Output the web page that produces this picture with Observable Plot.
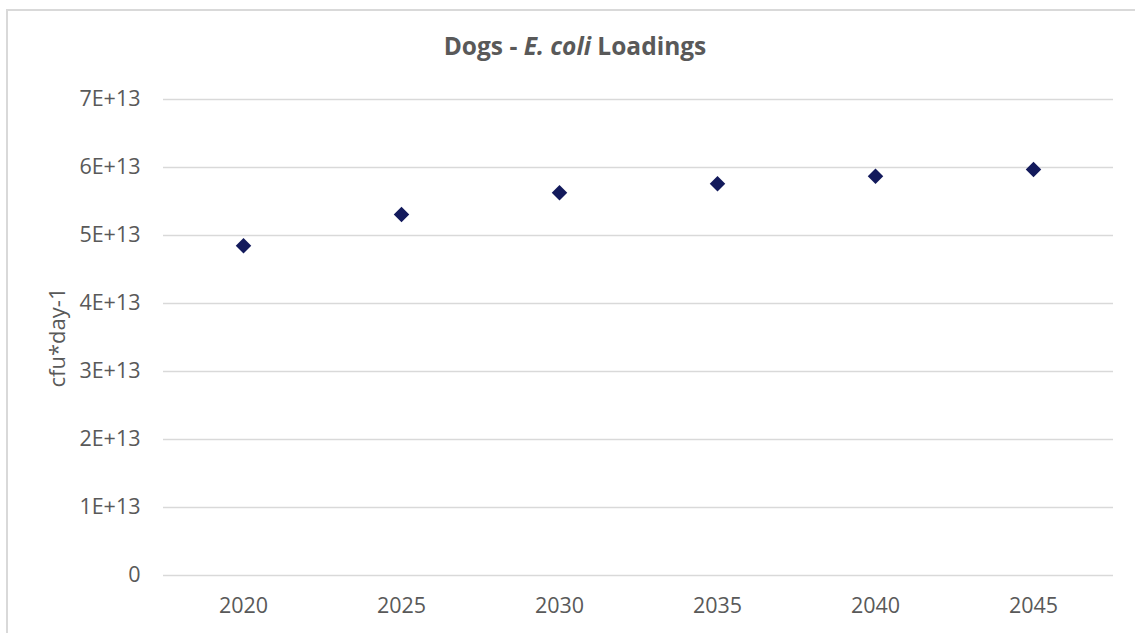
<!DOCTYPE html>
<html>
<head>
<meta charset="utf-8">
<script src="https://cdn.jsdelivr.net/npm/d3@7"></script>
<script src="https://cdn.jsdelivr.net/npm/@observablehq/plot@0.6"></script>
<style>
  html, body { margin: 0; padding: 0; background: #fff; }
  #wrap { position: relative; width: 1135px; height: 633px; overflow: hidden; font-family: "Open Sans", sans-serif; }
  #frame { position: absolute; left: 6px; top: 9px; width: 1140px; height: 640px; border: 2px solid #d9d9d9; box-sizing: border-box; }
  #title { position: absolute; left: 0; width: 1150px; top: 29px; text-align: center; font-size: 24.5px; font-weight: bold; color: #595959; }
  #chart { position: absolute; left: 0; top: 0; }
  #chart svg g[aria-label="x-axis tick label"] text, #chart svg g[aria-label="y-axis tick label"] text { font-size: 21.5px; }
</style>
</head>
<body>
<div id="wrap">
  <div id="frame"></div>
  <div id="chart"></div>
  <div id="title">Dogs - <i>E. coli</i> Loadings</div>
</div>
<script>
const years = ["2020", "2025", "2030", "2035", "2040", "2045"];
const loadings = [4.85e13, 5.31e13, 5.63e13, 5.76e13, 5.87e13, 5.97e13];
const yTicks = [0, 1e13, 2e13, 3e13, 4e13, 5e13, 6e13, 7e13];
const yTickLabels = ["0", "1E+13", "2E+13", "3E+13", "4E+13", "5E+13", "6E+13", "7E+13"];
const yAxisLabel = "cfu*day-1";

const data = years.map((y, i) => ({year: y, value: loadings[i]}));

const chart = Plot.plot({
  width: 1135,
  height: 633,
  marginLeft: 163,
  marginRight: 22,
  marginTop: 99,
  marginBottom: 58,
  style: {fontFamily: "Open Sans, sans-serif", fontSize: "21.5px", color: "#595959", background: "transparent"},
  x: {type: "point", domain: years, padding: 0.5, tickSize: 0, tickPadding: 22, label: null},
  y: {domain: [0, 7e13], ticks: yTicks, tickSize: 0, tickPadding: 23, label: null,
      tickFormat: d => yTickLabels[yTicks.indexOf(d)]},
  marks: [
    Plot.ruleY(yTicks, {stroke: "#d9d9d9", strokeWidth: 1.5}),
    Plot.dot(data, {x: "year", y: "value", symbol: "diamond2", r: 7, fill: "#131a5c", stroke: "none"}),
    Plot.text([yAxisLabel], {frameAnchor: "left", dx: -106, rotate: -90, textAnchor: "middle", text: d => d, fill: "#595959", fontSize: 22})
  ]
});
document.getElementById("chart").appendChild(chart);
</script>
</body>
</html>
